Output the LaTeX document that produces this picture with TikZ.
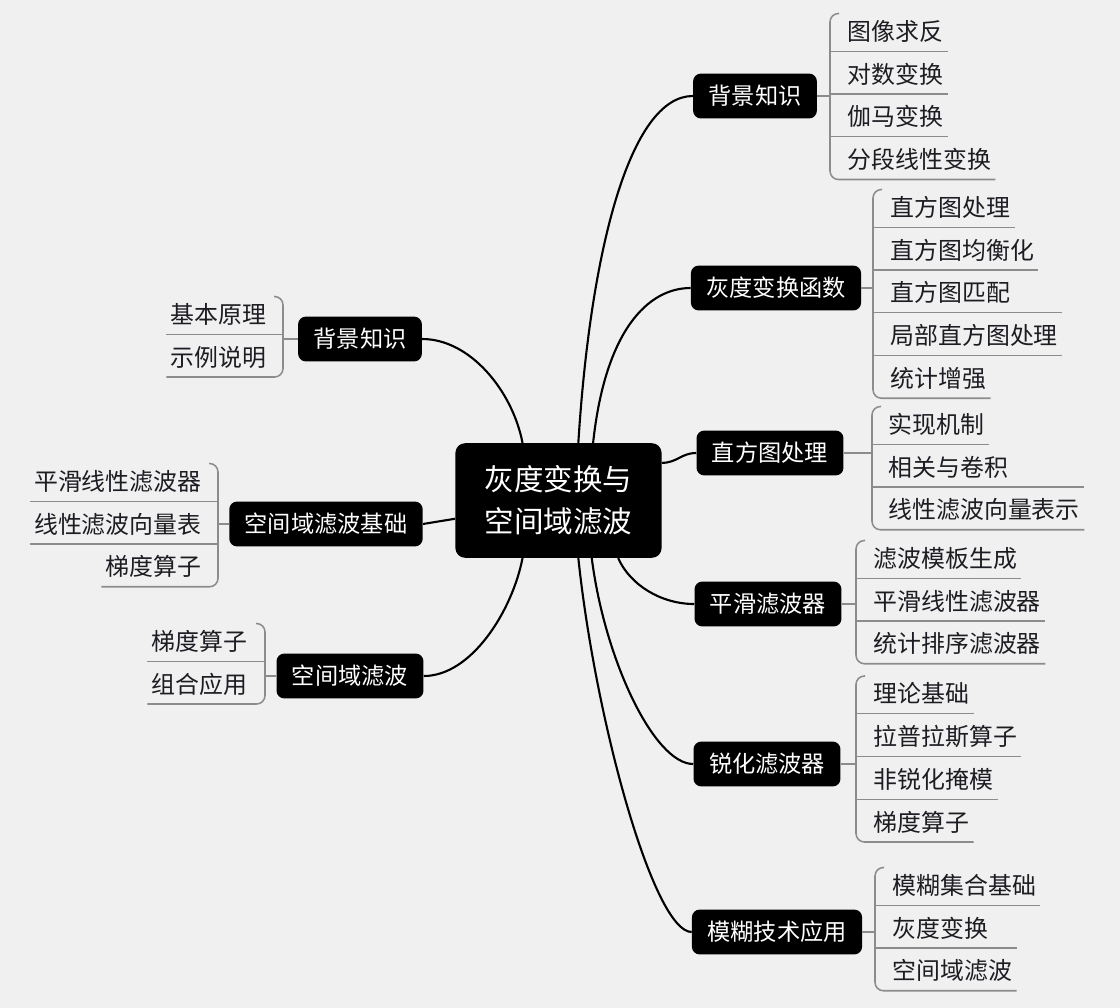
\documentclass[tikz,border=0pt]{standalone}
\usepackage{fontspec}
\setmainfont{Noto Sans CJK SC}
\usepackage{xcolor}
\usetikzlibrary{calc, positioning}

\definecolor{bgcol}{RGB}{240,240,240}
\definecolor{brkgray}{RGB}{140,140,140}
\definecolor{leaftext}{RGB}{28,28,34}

\begin{document}
\begin{tikzpicture}[
  x=0.025cm, y=-0.025cm,
  root/.style={fill=black, text=white, rounded corners=7pt, align=center,
               minimum width=146.7pt, minimum height=81.5pt,
               font=\fontsize{21pt}{29.8pt}\selectfont},
  branch/.style={fill=black, text=white, rounded corners=5.5pt, inner xsep=11pt,
                 minimum height=31.9pt, font=\fontsize{16.5pt}{19pt}\selectfont},
  leaf/.style={inner xsep=3pt, inner ysep=6.5pt, text height=16pt, text depth=1pt,
               text=leaftext, font=\fontsize{17pt}{20pt}\selectfont},
  link/.style={line width=1.5pt},
  brk/.style={draw=brkgray, line width=1.1pt, rounded corners=6pt},
  uline/.style={draw=brkgray, line width=0.9pt}
]
  \fill[bgcol] (0,0) rectangle (1120,1008);
  \useasboundingbox (0,0) rectangle (1120,1008);

  \node[root] (core) at (558.5,500.5) {灰度变换与\\空间域滤波};

  % right side
  \node[branch] (bg) at (755,96) {背景知识};
  \node[branch] (gt) at (776,288) {灰度变换函数};
  \node[branch] (hs) at (770,453) {直方图处理};
  \node[branch] (sm) at (768,604) {平滑滤波器};
  \node[branch] (sh) at (767,764) {锐化滤波器};
  \node[branch] (fz) at (777,932) {模糊技术应用};
  % left side
  \node[branch] (lbg) at (360,339) {背景知识};
  \node[branch] (sb) at (326,524) {空间域滤波基础};
  \node[branch] (sf) at (350,676) {空间域滤波};

  \draw[link] (core.71) .. controls +(12,-192) and +(-63,0) .. (bg.west);
  \draw[link] (core.59) .. controls +(12,-112) and +(-43,0) .. (gt.west);
  \draw[link] (core.20) .. controls +(15,0) and +(-15,0) .. (hs.west);
  \draw[link] (core.316) .. controls +(12,27) and +(-33,0) .. (sm.west);
  \draw[link] (core.300) .. controls +(13,102) and +(-39,0) .. (sh.west);
  \draw[link] (core.289) .. controls +(17,162) and +(-38,0) .. (fz.west);
  \draw[link] (core.122) .. controls +(-10,-52) and +(48,0) .. (lbg.east);
  \draw[link] (core.190) -- (sb.east);
  \draw[link] (core.238) .. controls +(-10,52) and +(48,0) .. (sf.east);

  % 背景知识 (right)
  \coordinate (kbg) at (830,96);
  \node[leaf, anchor=north west] (bg1) at (843,8.5) {图像求反};
  \node[leaf, below=0pt of bg1.south west, anchor=north west] (bg2) {对数变换};
  \node[leaf, below=0pt of bg2.south west, anchor=north west] (bg3) {伽马变换};
  \node[leaf, below=0pt of bg3.south west, anchor=north west] (bg4) {分段线性变换};
  \draw[brk] (bg.east) -- (kbg);
  \draw[brk] ($(kbg |- bg1.north)+(9,5)$) -- ($(kbg |- bg1.north)+(0,5)$)
    -- (kbg |- bg4.south) -- (bg4.south east);
  \draw[uline] (kbg |- bg1.south) -- (bg1.south east);
  \draw[uline] (kbg |- bg2.south) -- (bg2.south east);
  \draw[uline] (kbg |- bg3.south) -- (bg3.south east);

  % 灰度变换函数
  \coordinate (kgt) at (873,288);
  \node[leaf, anchor=north west] (gt1) at (886,184.5) {直方图处理};
  \node[leaf, below=0pt of gt1.south west, anchor=north west] (gt2) {直方图均衡化};
  \node[leaf, below=0pt of gt2.south west, anchor=north west] (gt3) {直方图匹配};
  \node[leaf, below=0pt of gt3.south west, anchor=north west] (gt4) {局部直方图处理};
  \node[leaf, below=0pt of gt4.south west, anchor=north west] (gt5) {统计增强};
  \draw[brk] (gt.east) -- (kgt);
  \draw[brk] ($(kgt |- gt1.north)+(9,5)$) -- ($(kgt |- gt1.north)+(0,5)$)
    -- (kgt |- gt5.south) -- (gt5.south east);
  \draw[uline] (kgt |- gt1.south) -- (gt1.south east);
  \draw[uline] (kgt |- gt2.south) -- (gt2.south east);
  \draw[uline] (kgt |- gt3.south) -- (gt3.south -| gt4.south east);
  \draw[uline] (kgt |- gt4.south) -- (gt4.south east);

  % 直方图处理
  \coordinate (khs) at (872,453);
  \node[leaf, anchor=north west] (hs1) at (884,401.5) {实现机制};
  \node[leaf, below=0pt of hs1.south west, anchor=north west] (hs2) {相关与卷积};
  \node[leaf, below=0pt of hs2.south west, anchor=north west] (hs3) {线性滤波向量表示};
  \draw[brk] (hs.east) -- (khs);
  \draw[brk] ($(khs |- hs1.north)+(9,5)$) -- ($(khs |- hs1.north)+(0,5)$)
    -- (khs |- hs3.south) -- (hs3.south east);
  \draw[uline] (khs |- hs1.south) -- (hs1.south east);
  \draw[uline] (khs |- hs2.south) -- (hs2.south -| hs3.south east);

  % 平滑滤波器
  \coordinate (ksm) at (856,604);
  \node[leaf, anchor=north west] (sm1) at (869,535.5) {滤波模板生成};
  \node[leaf, below=0pt of sm1.south west, anchor=north west] (sm2) {平滑线性滤波器};
  \node[leaf, below=0pt of sm2.south west, anchor=north west] (sm3) {统计排序滤波器};
  \draw[brk] (sm.east) -- (ksm);
  \draw[brk] ($(ksm |- sm1.north)+(9,5)$) -- ($(ksm |- sm1.north)+(0,5)$)
    -- (ksm |- sm3.south) -- (sm3.south east);
  \draw[uline] (ksm |- sm1.south) -- (sm1.south east);
  \draw[uline] (ksm |- sm2.south) -- (sm2.south east);

  % 锐化滤波器
  \coordinate (ksh) at (856,764);
  \node[leaf, anchor=north west] (sh1) at (869,671) {理论基础};
  \node[leaf, below=0pt of sh1.south west, anchor=north west] (sh2) {拉普拉斯算子};
  \node[leaf, below=0pt of sh2.south west, anchor=north west] (sh3) {非锐化掩模};
  \node[leaf, below=0pt of sh3.south west, anchor=north west] (sh4) {梯度算子};
  \draw[brk] (sh.east) -- (ksh);
  \draw[brk] ($(ksh |- sh1.north)+(9,5)$) -- ($(ksh |- sh1.north)+(0,5)$)
    -- (ksh |- sh4.south) -- (sh4.south east);
  \draw[uline] (ksh |- sh1.south) -- (sh1.south east);
  \draw[uline] (ksh |- sh2.south) -- (sh2.south east);
  \draw[uline] (ksh |- sh3.south) -- (sh3.south east);

  % 模糊技术应用
  \coordinate (kfz) at (875,932);
  \node[leaf, anchor=north west] (fz1) at (888,862.5) {模糊集合基础};
  \node[leaf, below=0pt of fz1.south west, anchor=north west] (fz2) {灰度变换};
  \node[leaf, below=0pt of fz2.south west, anchor=north west] (fz3) {空间域滤波};
  \draw[brk] (fz.east) -- (kfz);
  \draw[brk] ($(kfz |- fz1.north)+(9,5)$) -- ($(kfz |- fz1.north)+(0,5)$)
    -- (kfz |- fz3.south) -- (fz3.south east);
  \draw[uline] (kfz |- fz1.south) -- (fz1.south east);
  \draw[uline] (kfz |- fz2.south) -- (fz2.south -| fz3.south east);

  % 背景知识 (left)
  \coordinate (klb) at (283,339);
  \node[leaf, anchor=north east] (lb1) at (271,291.5) {基本原理};
  \node[leaf, below=0pt of lb1.south east, anchor=north east] (lb2) {示例说明};
  \draw[brk] (lbg.west) -- (klb);
  \draw[brk] ($(klb |- lb1.north)+(-9,5)$) -- ($(klb |- lb1.north)+(0,5)$)
    -- (klb |- lb2.south) -- (lb2.south west);
  \draw[uline] (klb |- lb1.south) -- (lb1.south west);

  % 空间域滤波基础
  \coordinate (ksb) at (218,524);
  \node[leaf, anchor=north east] (sb1) at (206,458.5) {平滑线性滤波器};
  \node[leaf, below=0pt of sb1.south east, anchor=north east] (sb2) {线性滤波向量表};
  \node[leaf, below=0pt of sb2.south east, anchor=north east] (sb3) {梯度算子};
  \draw[brk] (sb.west) -- (ksb);
  \draw[brk] ($(ksb |- sb1.north)+(-9,5)$) -- ($(ksb |- sb1.north)+(0,5)$)
    -- (ksb |- sb3.south) -- (sb3.south west);
  \draw[uline] (ksb |- sb1.south) -- (sb1.south west);
  \draw[uline] (ksb |- sb2.south) -- (sb2.south west);

  % 空间域滤波
  \coordinate (ksf) at (265,676);
  \node[leaf, anchor=north east] (sf1) at (252,618.5) {梯度算子};
  \node[leaf, below=0pt of sf1.south east, anchor=north east] (sf2) {组合应用};
  \draw[brk] (sf.west) -- (ksf);
  \draw[brk] ($(ksf |- sf1.north)+(-9,5)$) -- ($(ksf |- sf1.north)+(0,5)$)
    -- (ksf |- sf2.south) -- (sf2.south west);
  \draw[uline] (ksf |- sf1.south) -- (sf1.south west);
\end{tikzpicture}
\end{document}
